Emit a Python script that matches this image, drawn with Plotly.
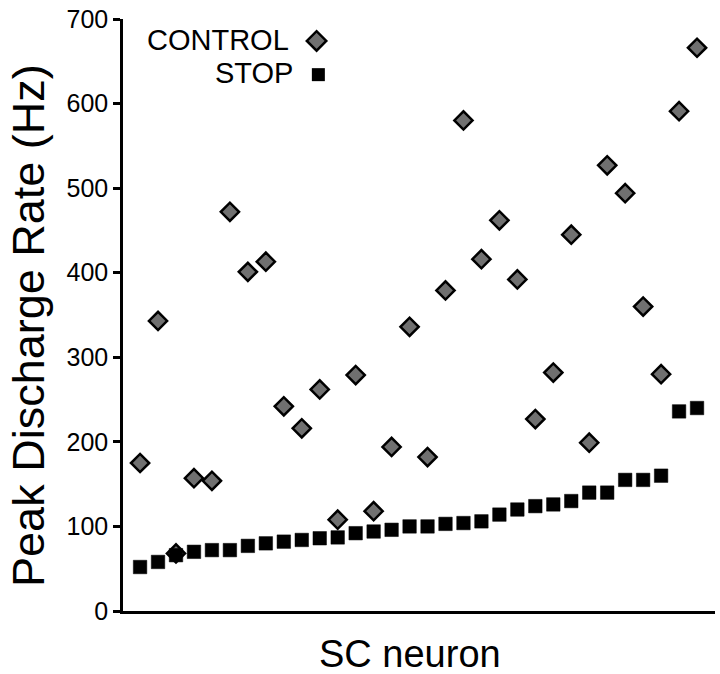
import plotly.graph_objects as go

neurons = list(range(1, 33))
control_rate = [175, 343, 68, 157, 154, 472, 401, 413, 242, 216, 262, 108, 279, 118, 194, 336,
                182, 379, 580, 416, 462, 392, 227, 282, 445, 199, 527, 494, 360, 280, 591, 666]
stop_rate = [52, 58, 66, 70, 72, 72, 77, 80, 82, 84, 86, 87, 92, 94, 96, 100,
             100, 103, 104, 106, 114, 120, 124, 126, 130, 140, 140, 155, 155, 160, 236, 240]
y_ticks = [0, 100, 200, 300, 400, 500, 600, 700]
legend_labels = ["CONTROL", "STOP"]

FONT = "Liberation Sans, Arial, sans-serif"
GRAY = "#707070"

fig = go.Figure()
fig.add_trace(go.Scatter(
    x=neurons, y=control_rate, mode="markers", name="CONTROL",
    marker=dict(symbol="diamond", size=14, color=GRAY, line=dict(color="black", width=2.5)),
    cliponaxis=False, showlegend=False))
fig.add_trace(go.Scatter(
    x=neurons, y=stop_rate, mode="markers", name="STOP",
    marker=dict(symbol="square", size=13.5, color="black", line=dict(color="black", width=0.5)),
    cliponaxis=False, showlegend=False))

# legend keys on an overlay axis (0..1)
fig.add_trace(go.Scatter(
    x=[0.327], y=[0.963], mode="markers", xaxis="x2", yaxis="y2",
    marker=dict(symbol="diamond", size=15, color=GRAY, line=dict(color="black", width=2.5)),
    cliponaxis=False, showlegend=False, hoverinfo="skip"))
fig.add_trace(go.Scatter(
    x=[0.330], y=[0.906], mode="markers", xaxis="x2", yaxis="y2",
    marker=dict(symbol="square", size=13, color="black"),
    cliponaxis=False, showlegend=False, hoverinfo="skip"))

fig.add_annotation(text=legend_labels[0], xref="paper", yref="paper", x=0.284, y=0.964,
                   xanchor="right", yanchor="middle", showarrow=False,
                   font=dict(family=FONT, size=29, color="black"))
fig.add_annotation(text=legend_labels[1], xref="paper", yref="paper", x=0.29, y=0.909,
                   xanchor="right", yanchor="middle", showarrow=False,
                   font=dict(family=FONT, size=29, color="black"))

# axis titles
fig.add_annotation(text="SC neuron", xref="paper", yref="paper", x=0.485, y=-0.072,
                   xanchor="center", yanchor="middle", showarrow=False,
                   font=dict(family=FONT, size=38, color="black"))
fig.add_annotation(text="Peak Discharge Rate (Hz)", xref="paper", yref="paper", x=-0.16, y=0.482,
                   xanchor="center", yanchor="middle", textangle=-90, showarrow=False,
                   font=dict(family=FONT, size=45, color="black"))

fig.update_layout(
    width=720, height=674,
    margin=dict(l=123, r=5, t=14, b=63),
    paper_bgcolor="white", plot_bgcolor="white",
    font=dict(family=FONT, color="black"),
    xaxis=dict(range=[0.05, 33], showgrid=False, zeroline=False, showticklabels=False,
               ticks="", showline=True, linecolor="black", linewidth=2.5),
    yaxis=dict(range=[0, 700], tickvals=y_ticks, ticktext=[str(v) for v in y_ticks],
               showgrid=False, zeroline=False, showline=True, linecolor="black", linewidth=2.5,
               ticks="outside", ticklen=7, tickwidth=2.5, tickcolor="black",
               ticklabeloverflow="allow",
               tickfont=dict(family=FONT, size=25, color="black")),
    xaxis2=dict(overlaying="x", range=[0, 1], visible=False),
    yaxis2=dict(overlaying="y", range=[0, 1], visible=False),
)

fig.write_html("out.html", config={"displayModeBar": False},
               post_script="document.body.style.margin='0';document.body.style.padding='0';")
